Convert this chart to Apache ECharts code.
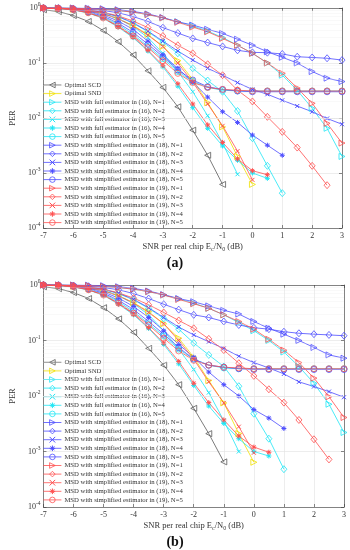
<!DOCTYPE html>
<html><head><meta charset="utf-8">
<script src="https://cdn.jsdelivr.net/npm/echarts@6/dist/echarts.min.js"></script>
<style>html,body{margin:0;padding:0;background:#fff}#c{width:350px;height:550px}</style>
</head><body><div id="c"></div>
<script>
// SNR per real chip (dB)
const snr = [-7,-6.5,-6,-5.5,-5,-4.5,-4,-3.5,-3,-2.5,-2,-1.5,-1,-0.5,0,0.5,1,1.5,2,2.5,3];
const names = [
  'Optimal SCD','Optimal SND',
  'MSD with full estimator in (16), N=1','MSD with full estimator in (16), N=2','MSD with full estimator in (16), N=3','MSD with full estimator in (16), N=4','MSD with full estimator in (16), N=5',
  'MSD with simplified estimator in (18), N=1','MSD with simplified estimator in (18), N=2','MSD with simplified estimator in (18), N=3','MSD with simplified estimator in (18), N=4','MSD with simplified estimator in (18), N=5',
  'MSD with simplified estimator in (19), N=1','MSD with simplified estimator in (19), N=2','MSD with simplified estimator in (19), N=3','MSD with simplified estimator in (19), N=4','MSD with simplified estimator in (19), N=5'
];
// ---- panel (a) PER values ----
const scdA  = [0.93,0.86,0.73,0.57,0.39,0.245,0.14,0.072,0.036,0.016,0.006,0.0021,0.00062];
const sndA  = [1.0,0.98,0.95,0.88,0.78,0.64,0.48,0.33,0.2,0.11,0.05,0.019,0.0069,0.002,0.00062];
const f16N1A = [1.0,1.0,0.99,0.97,0.94,0.9,0.84,0.76,0.66,0.56,0.47,0.38,0.29,0.21,0.15,0.1,0.06,0.032,0.015,0.0065,0.002];
const f16N2A = [1.0,0.99,0.97,0.92,0.83,0.7,0.53,0.37,0.24,0.15,0.08,0.048,0.03,0.0134,0.0043,0.00135,0.00043];
const f16N3A = [1.0,0.99,0.96,0.9,0.8,0.64,0.46,0.29,0.15,0.07,0.03,0.011,0.0035,0.00095];
const f16N4A = [0.99,0.97,0.92,0.81,0.65,0.45,0.29,0.165,0.085,0.038,0.0154,0.0065,0.0031,0.0017,0.001,0.0008];
const f16N5A = [1.0,0.98,0.94,0.84,0.68,0.5,0.33,0.2,0.12,0.07,0.046,0.036,0.032,0.031,0.031,0.031,0.031,0.031,0.031,0.031,0.031];
const s18N1A = [1.0,1.0,1.0,0.99,0.97,0.93,0.87,0.78,0.67,0.56,0.49,0.41,0.345,0.27,0.21,0.16,0.127,0.1,0.07,0.053,0.046];
const s18N2A = [1.0,0.99,0.98,0.95,0.9,0.82,0.7,0.57,0.44,0.35,0.28,0.235,0.2,0.17,0.156,0.154,0.146,0.13,0.126,0.122,0.113];
const s18N3A = [1.0,0.99,0.97,0.92,0.83,0.7,0.54,0.38,0.25,0.165,0.113,0.08,0.06,0.044,0.033,0.027,0.021,0.0165,0.013,0.0098,0.0077];
const s18N4A = [1.0,0.99,0.96,0.88,0.75,0.58,0.41,0.25,0.14,0.08,0.045,0.024,0.013,0.0083,0.0049,0.0032,0.0021];
const s18N5A = [1.0,0.99,0.95,0.86,0.71,0.53,0.36,0.22,0.13,0.075,0.049,0.037,0.033,0.031,0.03,0.03,0.03,0.03,0.03,0.03,0.03];
const s19N1A = [1.0,1.0,0.99,0.97,0.94,0.9,0.84,0.76,0.66,0.55,0.45,0.37,0.28,0.21,0.15,0.1,0.065,0.035,0.0185,0.008,0.0035];
const s19N2A = [1.0,0.99,0.97,0.92,0.84,0.72,0.58,0.44,0.31,0.21,0.15,0.095,0.06,0.032,0.02,0.0105,0.0056,0.0029,0.00135,0.0006];
const s19N3A = [1.0,0.99,0.96,0.9,0.79,0.64,0.47,0.32,0.2,0.1,0.045,0.018,0.0072,0.0025,0.00075];
const s19N4A = [1.0,0.98,0.93,0.82,0.66,0.46,0.3,0.17,0.09,0.042,0.018,0.0075,0.0036,0.0018,0.0011,0.00093];
const s19N5A = [1.0,0.98,0.93,0.82,0.66,0.47,0.31,0.19,0.11,0.065,0.044,0.036,0.033,0.032,0.031,0.031,0.031,0.031,0.031,0.031,0.031];
// ---- panel (b) PER values ----
const scdB  = [0.93,0.86,0.73,0.57,0.39,0.245,0.14,0.072,0.036,0.016,0.006,0.0021,0.00065];
const sndB  = [1.0,0.98,0.95,0.88,0.78,0.64,0.48,0.33,0.2,0.11,0.05,0.019,0.0075,0.0021,0.00064];
const f16N1B = [1.0,1.0,0.99,0.97,0.94,0.9,0.84,0.76,0.66,0.56,0.47,0.38,0.29,0.21,0.15,0.1,0.062,0.034,0.017,0.0071,0.0022];
const f16N2B = [1.0,0.99,0.97,0.92,0.83,0.7,0.54,0.38,0.25,0.16,0.09,0.055,0.034,0.015,0.0048,0.0017,0.00048];
const f16N3B = [1.0,0.99,0.96,0.9,0.8,0.64,0.46,0.29,0.15,0.07,0.03,0.0115,0.0036,0.001];
const f16N4B = [0.99,0.97,0.92,0.81,0.65,0.45,0.29,0.165,0.085,0.038,0.0155,0.0066,0.0032,0.0017,0.001,0.00083];
const f16N5B = [1.0,0.98,0.94,0.84,0.68,0.5,0.33,0.2,0.12,0.07,0.046,0.036,0.032,0.031,0.031,0.031,0.031,0.031,0.031,0.031,0.031];
const s18N1B = [1.0,1.0,1.0,0.99,0.97,0.93,0.87,0.78,0.67,0.57,0.5,0.42,0.35,0.3,0.22,0.166,0.13,0.1,0.075,0.055,0.048];
const s18N2B = [1.0,0.99,0.98,0.95,0.9,0.82,0.7,0.57,0.45,0.36,0.29,0.26,0.22,0.19,0.17,0.16,0.144,0.135,0.13,0.126,0.122];
const s18N3B = [1.0,0.99,0.97,0.92,0.84,0.71,0.55,0.39,0.26,0.175,0.126,0.095,0.072,0.052,0.04,0.032,0.025,0.018,0.0148,0.012,0.0095];
const s18N4B = [1.0,0.99,0.96,0.88,0.75,0.58,0.41,0.26,0.15,0.085,0.05,0.027,0.016,0.01,0.0057,0.004,0.0026];
const s18N5B = [1.0,0.99,0.95,0.86,0.71,0.53,0.36,0.22,0.13,0.075,0.046,0.036,0.033,0.031,0.03,0.03,0.03,0.03,0.03,0.03,0.03];
const s19N1B = [1.0,1.0,0.99,0.97,0.94,0.9,0.84,0.76,0.66,0.55,0.46,0.38,0.29,0.22,0.16,0.105,0.067,0.04,0.021,0.0097,0.0041];
const s19N2B = [1.0,0.99,0.97,0.92,0.84,0.72,0.58,0.44,0.32,0.23,0.166,0.107,0.067,0.039,0.023,0.0132,0.0076,0.0037,0.00166,0.00072];
const s19N3B = [1.0,0.99,0.96,0.9,0.79,0.64,0.47,0.32,0.2,0.1,0.046,0.018,0.0075,0.0028,0.00095];
const s19N4B = [1.0,0.98,0.93,0.82,0.66,0.46,0.3,0.17,0.09,0.042,0.017,0.0076,0.0037,0.0019,0.0012,0.00097];
const s19N5B = [1.0,0.98,0.93,0.82,0.66,0.47,0.31,0.19,0.11,0.065,0.044,0.036,0.033,0.032,0.031,0.031,0.031,0.031,0.031,0.031,0.031];

const panelA = [scdA,sndA,f16N1A,f16N2A,f16N3A,f16N4A,f16N5A,s18N1A,s18N2A,s18N3A,s18N4A,s18N5A,s19N1A,s19N2A,s19N3A,s19N4A,s19N5A];
const panelB = [scdB,sndB,f16N1B,f16N2B,f16N3B,f16N4B,f16N5B,s18N1B,s18N2B,s18N3B,s18N4B,s18N5B,s19N1B,s19N2B,s19N3B,s19N4B,s19N5B];

const GRAY='#5a5a5a', YEL='#f0e000', CYAN='#1ee6f5', BLUE='#4d4dff', RED='#ff4f4f';
const colors = [GRAY,YEL,CYAN,CYAN,CYAN,CYAN,CYAN,BLUE,BLUE,BLUE,BLUE,BLUE,RED,RED,RED,RED,RED];
const SYM = {
  left:{symbol:'triangle',rot:90,size:[6,6]},
  right:{symbol:'triangle',rot:-90,size:[6,6]},
  diamond:{symbol:'diamond',rot:0,size:[6,7]},
  x:{symbol:'path://M0,0L10,10M10,0L0,10',rot:0,size:[4,4]},
  star:{symbol:'path://M5,0L5,10M0,5L10,5M1.5,1.5L8.5,8.5M8.5,1.5L1.5,8.5',rot:0,size:[5,5]},
  circle:{symbol:'circle',rot:0,size:[6,6]}
};
const cyc = ['right','diamond','x','star','circle'];
const markers = ['left','right'].concat(cyc,cyc,cyc);
const isStroke = i => (markers[i]==='x'||markers[i]==='star');
const itemStyleOf = i => ({color: isStroke(i) ? colors[i] : 'rgba(255,255,255,0)', borderColor:colors[i], borderWidth: isStroke(i)?1:0.8});

const FONT = 'Liberation Serif';
const minorVals = [];
for (let e=-4;e<0;e++) for (let m=2;m<=9;m++) minorVals.push(m*Math.pow(10,e));

function mkSeries(panel, gi){
  const out = panel.map((vals,i)=>{
    const s = SYM[markers[i]];
    return {
      type:'line', name:names[i], xAxisIndex:gi*2, yAxisIndex:gi*2,
      data: vals.map((v,k)=>[snr[k],v]),
      symbol:s.symbol, symbolRotate:s.rot, symbolSize:s.size, showSymbol:true,
      lineStyle:{color:colors[i],width:0.8},
      itemStyle:itemStyleOf(i),
      emphasis:{disabled:true}, animation:false, z:3
    };
  });
  out.push({
    type:'line', xAxisIndex:gi*2, yAxisIndex:gi*2, data:[], silent:true, z:1,
    markLine:{silent:true, symbol:'none', label:{show:false}, animation:false,
      lineStyle:{color:'#e6e6e6', width:0.5, type:[1,1]},
      data: minorVals.map(v=>({yAxis:v}))}
  });
  return out;
}

const axisLineStyle = {color:'#3a3a3a', width:0.6};
function xAxes(gi){
  return [{
    type:'value', gridIndex:gi, min:-7, max:3, interval:1, position:'bottom',
    axisLine:{show:true,onZero:false,lineStyle:axisLineStyle},
    axisTick:{show:true,inside:true,length:3,lineStyle:axisLineStyle},
    axisLabel:{fontFamily:FONT,fontSize:8,color:'#333',margin:4},
    splitLine:{show:true,lineStyle:{color:'#e0e0e0',width:0.6}},
    name:'SNR per real chip E{sub|c}/N{sub|0} (dB)', nameLocation:'middle', nameGap:13,
    nameTextStyle:{fontFamily:FONT,fontSize:8.5,color:'#333',
      rich:{sub:{fontFamily:FONT,fontSize:6,color:'#333',padding:[5,0,0,0]}}}
  },{
    type:'value', gridIndex:gi, min:-7, max:3, interval:1, position:'top',
    axisLine:{show:true,onZero:false,lineStyle:axisLineStyle},
    axisTick:{show:true,inside:true,length:3,lineStyle:axisLineStyle},
    axisLabel:{show:false}, splitLine:{show:false}
  }];
}
function yAxes(gi){
  const lbl = v => { const e=Math.round(Math.log10(v)); return '{b|10}{s|'+e+'}'; };
  return [{
    type:'log', logBase:10, gridIndex:gi, min:1e-4, max:1, position:'left',
    axisLine:{show:true,onZero:false,lineStyle:axisLineStyle},
    axisTick:{show:true,inside:true,length:3,lineStyle:axisLineStyle},
    axisLabel:{formatter:lbl,margin:3,color:'#333',
      rich:{b:{fontFamily:FONT,fontSize:8,color:'#333'},
            s:{fontFamily:FONT,fontSize:5.5,color:'#333',padding:[0,0,6,0]}}},
    splitLine:{show:true,lineStyle:{color:'#e0e0e0',width:0.6}},
    name:'PER', nameLocation:'middle', nameGap:22,
    nameTextStyle:{fontFamily:FONT,fontSize:8.5,color:'#333'}
  },{
    type:'log', logBase:10, gridIndex:gi, min:1e-4, max:1, position:'right',
    axisLine:{show:true,onZero:false,lineStyle:axisLineStyle},
    axisTick:{show:true,inside:true,length:3,lineStyle:axisLineStyle},
    axisLabel:{show:false}, splitLine:{show:false}
  }];
}
function legend(top){
  return {
    orient:'vertical', left:38, top:top, itemWidth:18, itemHeight:7, itemGap:0,
    data:names.map((n,i)=>({name:n, itemStyle:itemStyleOf(i), lineStyle:{color:colors[i],width:0.8}})),
    itemStyle:{color:'rgba(255,255,255,0)', borderWidth:0.8},
    lineStyle:{width:0.8},
    selectedMode:false, backgroundColor:'transparent',
    textStyle:{fontFamily:FONT,fontSize:6.7,color:'#333',lineHeight:8.6,padding:[0,0,0,-2]}
  };
}

const chart = echarts.init(document.getElementById('c'), null, {renderer:'canvas'});
chart.setOption({
  animation:false,
  backgroundColor:'#fff',
  grid:[{left:30,top:8,width:312,height:220},{left:32,top:285,width:312,height:222}],
  xAxis:[...xAxes(0),...xAxes(1)],
  yAxis:[...yAxes(0),...yAxes(1)],
  legend:[legend(75.7),legend(353)],
  title:[
    {text:'(a)',left:'center',top:251,textStyle:{fontFamily:FONT,fontWeight:'bold',fontSize:14,color:'#111'}},
    {text:'(b)',left:'center',top:530,textStyle:{fontFamily:FONT,fontWeight:'bold',fontSize:14,color:'#111'}}
  ],
  series:[...mkSeries(panelA,0),...mkSeries(panelB,1)]
});
</script></body></html>
